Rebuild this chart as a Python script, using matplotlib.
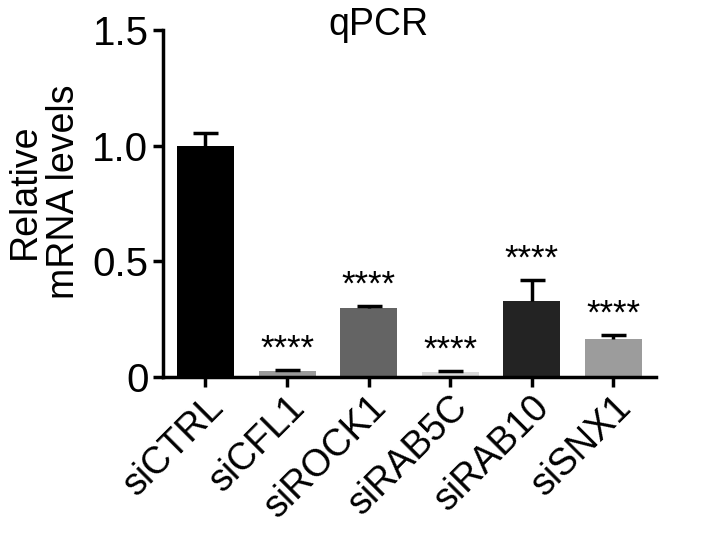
import numpy as np
import matplotlib
matplotlib.use("Agg")
import matplotlib.pyplot as plt

plt.rcParams['font.family'] = ['Liberation Sans', 'DejaVu Sans']

# data
labels = ["siCTRL", "siCFL1", "siROCK1", "siRAB5C", "siRAB10", "siSNX1"]
values = [1.00, 0.025, 0.30, 0.02, 0.33, 0.165]
errors = [0.055, 0.005, 0.008, 0.005, 0.09, 0.018]
stars = ["", "****", "****", "****", "****", "****"]
colors = ["#000000", "#9a9a9a", "#646464", "#d9d9d9", "#232323", "#9c9c9c"]

fig = plt.figure(figsize=(7.09, 5.37), dpi=100)
ax = fig.add_axes([0.23, 0.298, 0.695, 0.646])

x = np.arange(len(labels))
ax.bar(x, values, width=0.7, color=colors, edgecolor="none", zorder=2)
eb = ax.errorbar(x, values, yerr=[np.zeros(len(x)), errors], fmt="none",
                 ecolor="black", elinewidth=2.5, capsize=9, capthick=2.5, zorder=3)
# only the upper cap is shown
for cl in eb[1]:
    if np.allclose(cl.get_ydata(), values):
        cl.set_visible(False)

for xi, v, e, s in zip(x, values, errors, stars):
    if s:
        ax.annotate(s, (xi, v + e), xytext=(0, 3), textcoords="offset points",
                    ha="center", va="bottom", fontsize=25)

ax.set_xlim(-0.52, 5.52)
ax.set_ylim(0, 1.5)
ax.set_yticks([0, 0.5, 1.0, 1.5])
ax.set_yticklabels(["0", "0.5", "1.0", "1.5"], fontsize=29)
ax.set_xticks(x)
ax.set_xticklabels(labels, rotation=45, ha="right", rotation_mode="anchor",
                   fontsize=27)
ax.set_ylabel("Relative\nmRNA levels", fontsize=27, linespacing=1.1)
ax.yaxis.set_label_coords(-0.165, 0.535)
fig.text(378 / 709, 1 - 35 / 537, "qPCR", fontsize=27, ha="center", va="baseline")

for side in ["top", "right"]:
    ax.spines[side].set_visible(False)
for side in ["left", "bottom"]:
    ax.spines[side].set_linewidth(2.5)
ax.tick_params(width=2.5, length=7.5, direction="out", pad=3)
ax.tick_params(axis="x", pad=1)

plt.savefig("out.png", dpi=100)
plt.close()
